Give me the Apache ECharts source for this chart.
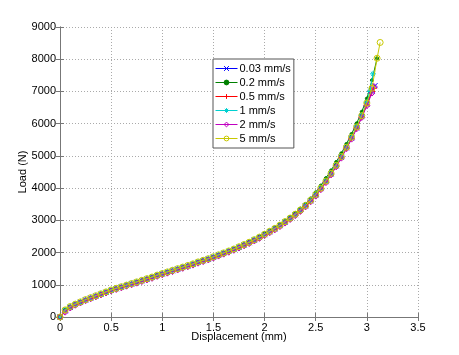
<!DOCTYPE html>
<html><head><meta charset="utf-8">
<script src="https://cdn.jsdelivr.net/npm/echarts@6/dist/echarts.min.js"></script>
<style>html,body{margin:0;padding:0;background:#fff}#c{width:459px;height:355px}</style>
</head><body><div id="c"></div>
<script>
var seriesNames = ['0.03 mm/s','0.2 mm/s','0.5 mm/s','1 mm/s','2 mm/s','5 mm/s'];
var xTicks = [0,0.5,1,1.5,2,2.5,3,3.5];
var yTicks = [0,1000,2000,3000,4000,5000,6000,7000,8000,9000];
var disp = [0,0.05,0.1,0.15,0.2,0.25,0.3,0.35,0.4,0.45,0.5,0.55,0.6,0.65,0.7,0.75,0.8,0.85,0.9,0.95,1,1.05,1.1,1.15,1.2,1.25,1.3,1.35,1.4,1.45,1.5,1.55,1.6,1.65,1.7,1.75,1.8,1.85,1.9,1.95,2,2.05,2.1,2.15,2.2,2.25,2.3,2.35,2.4,2.45,2.5,2.55,2.6,2.65,2.7,2.75,2.8,2.85,2.9,2.95,3];
var load003 = [0,190,300,385,455,525,585,645,705,765,825,875,925,975,1025,1075,1125,1175,1225,1285,1335,1385,1435,1485,1535,1585,1635,1695,1745,1795,1855,1915,1975,2035,2095,2165,2235,2305,2385,2465,2555,2645,2735,2835,2945,3055,3175,3305,3445,3605,3785,3985,4200,4440,4690,4960,5250,5550,5870,6220,6600];
var load02 = [0,230,330,405,475,545,605,665,725,785,845,895,945,995,1045,1095,1145,1195,1245,1305,1355,1405,1455,1505,1555,1605,1655,1715,1765,1815,1875,1935,1995,2060,2120,2190,2260,2335,2415,2495,2590,2680,2775,2880,2990,3105,3230,3365,3510,3680,3870,4080,4310,4550,4810,5080,5370,5680,6010,6370,6780];
var load05 = [0,170,290,375,445,515,575,635,695,755,815,865,915,965,1015,1065,1115,1165,1215,1270,1320,1370,1420,1470,1520,1570,1620,1680,1730,1780,1840,1900,1960,2020,2080,2150,2220,2290,2370,2450,2540,2630,2720,2820,2930,3040,3160,3290,3430,3590,3770,3970,4190,4430,4680,4950,5240,5540,5860,6210,6580];
var load1 = [0,210,320,395,465,535,595,655,715,775,835,885,935,985,1035,1085,1135,1185,1235,1295,1345,1395,1445,1495,1545,1595,1645,1705,1755,1805,1865,1925,1985,2045,2105,2175,2245,2315,2395,2475,2565,2655,2745,2845,2955,3065,3185,3320,3460,3620,3800,4000,4220,4460,4710,4980,5270,5580,5900,6260,6660];
var load2 = [0,150,280,365,435,505,565,625,685,745,805,855,905,955,1000,1050,1100,1150,1200,1260,1310,1360,1410,1460,1510,1560,1610,1670,1720,1770,1830,1890,1950,2010,2070,2140,2210,2280,2360,2440,2525,2615,2705,2805,2915,3025,3145,3275,3415,3575,3750,3950,4170,4410,4660,4930,5220,5520,5840,6190,6560];
var load5 = [0,220,325,400,470,540,600,660,720,780,840,890,940,990,1040,1090,1140,1190,1240,1300,1350,1400,1450,1500,1550,1600,1650,1710,1760,1810,1870,1930,1990,2050,2110,2180,2250,2320,2400,2480,2570,2660,2750,2850,2960,3070,3190,3320,3460,3620,3800,4000,4220,4460,4710,4980,5270,5580,5900,6250,6640];
var tailX003 = [3.05,3.08], tailY003 = [7000,7180];
var tailX02 = [3.05,3.1], tailY02 = [7350,8030];
var tailX05 = [3.05,3.07], tailY05 = [7000,7100];
var tailX1 = [3.03,3.06], tailY1 = [7000,7546];
var tailX2 = [3.05,3.07], tailY2 = [6950,7150];
var tailX5 = [3.05,3.1,3.13], tailY5 = [7100,8030,8520];

function pts(xs, ys, tx, ty){
  var a = xs.map(function(x,i){return [x, ys[i]];});
  tx.forEach(function(x,i){a.push([x, ty[i]]);});
  return a;
}
var loads = [load003,load02,load05,load1,load2,load5];
var tX = [tailX003,tailX02,tailX05,tailX1,tailX2,tailX5];
var tY = [tailY003,tailY02,tailY05,tailY1,tailY2,tailY5];
var colors = ['#0000ff','#008000','#ff0000','#00d0d0','#c000c0','#c8c800'];
var symbols = [
  'path://M0,0L10,10M10,0L0,10',
  'circle',
  'path://M5,0L5,10M0,5L10,5',
  'path://M5,0L5,10M0,5L10,5M1.5,1.5L8.5,8.5M8.5,1.5L1.5,8.5',
  'diamond',
  'circle'
];
var sizes = [5,3,6,6,6,6];
var fills = colors.map(function(c,k){ return k===1 ? c : 'rgba(0,0,0,0)'; });
var series = seriesNames.map(function(n,k){
  return {
    name: n, type: 'line', data: pts(disp, loads[k], tX[k], tY[k]),
    symbol: symbols[k], symbolSize: sizes[k], showAllSymbol: true,
    lineStyle: {color: colors[k], width: 1},
    itemStyle: {color: fills[k], borderColor: colors[k], borderWidth: 1},
    emphasis: {disabled: true}, animation: false, z: 2 + k
  };
});
var legendData = seriesNames.map(function(n,k){
  return {name: n, itemStyle: {color: fills[k], borderColor: colors[k], borderWidth: 1}, lineStyle: {color: colors[k], width: 1}};
});
var grid = {left: 60, right: 41, top: 27, bottom: 38};
var tickFont = {fontFamily: 'Liberation Sans, Arial, sans-serif', fontSize: 11, color: '#000'};
var option = {
  backgroundColor: '#fff',
  animation: false,
  grid: grid,
  legend: {
    data: legendData, orient: 'vertical', left: 213, top: 59,
    itemWidth: 22, itemHeight: 6, itemGap: 1, padding: [3, 3, 3, 2],
    backgroundColor: '#fff', borderColor: '#555', borderWidth: 1,
    textStyle: {fontFamily: 'Liberation Sans, Arial, sans-serif', fontSize: 11, color: '#000', padding: [0,0,0,-3], lineHeight: 13}
  },
  xAxis: [{
    type: 'value', min: xTicks[0], max: xTicks[xTicks.length-1], interval: 0.5,
    name: 'Displacement (mm)', nameLocation: 'middle', nameGap: 14, nameMoveOverlap: false,
    nameTextStyle: {fontFamily: 'Liberation Sans, Arial, sans-serif', fontSize: 11, color: '#000'},
    axisLine: {show: true, lineStyle: {color: '#777', width: 1}},
    axisTick: {show: true, inside: true, length: 4, lineStyle: {color: '#777'}},
    axisLabel: Object.assign({margin: 5, formatter: function(v){return String(v);}}, tickFont),
    splitLine: {show: true, lineStyle: {color: '#aaa', type: [1, 2], width: 1}}
  },{
    type: 'value', position: 'top', min: xTicks[0], max: xTicks[xTicks.length-1], interval: 0.5,
    axisLine: {show: true, lineStyle: {color: '#777', width: 1}},
    axisTick: {show: true, inside: true, length: 4, lineStyle: {color: '#777'}},
    axisLabel: {show: false}, splitLine: {show: false}
  }],
  yAxis: [{
    type: 'value', min: yTicks[0], max: yTicks[yTicks.length-1], interval: 1000,
    name: 'Load (N)', nameLocation: 'middle', nameGap: 32, nameRotate: 90, nameMoveOverlap: false,
    nameTextStyle: {fontFamily: 'Liberation Sans, Arial, sans-serif', fontSize: 11, color: '#000'},
    axisLine: {show: true, lineStyle: {color: '#777', width: 1}},
    axisTick: {show: true, inside: true, length: 4, lineStyle: {color: '#777'}},
    axisLabel: Object.assign({margin: 4, formatter: function(v){return String(v);}}, tickFont),
    splitLine: {show: true, lineStyle: {color: '#aaa', type: [1, 2], width: 1}}
  },{
    type: 'value', position: 'right', min: yTicks[0], max: yTicks[yTicks.length-1], interval: 1000,
    axisLine: {show: true, lineStyle: {color: '#777', width: 1}},
    axisTick: {show: true, inside: true, length: 4, lineStyle: {color: '#777'}},
    axisLabel: {show: false}, splitLine: {show: false}
  }],
  series: series
};
var chart = echarts.init(document.getElementById('c'), null, {renderer: 'canvas'});
chart.setOption(option);
</script>
</body></html>
